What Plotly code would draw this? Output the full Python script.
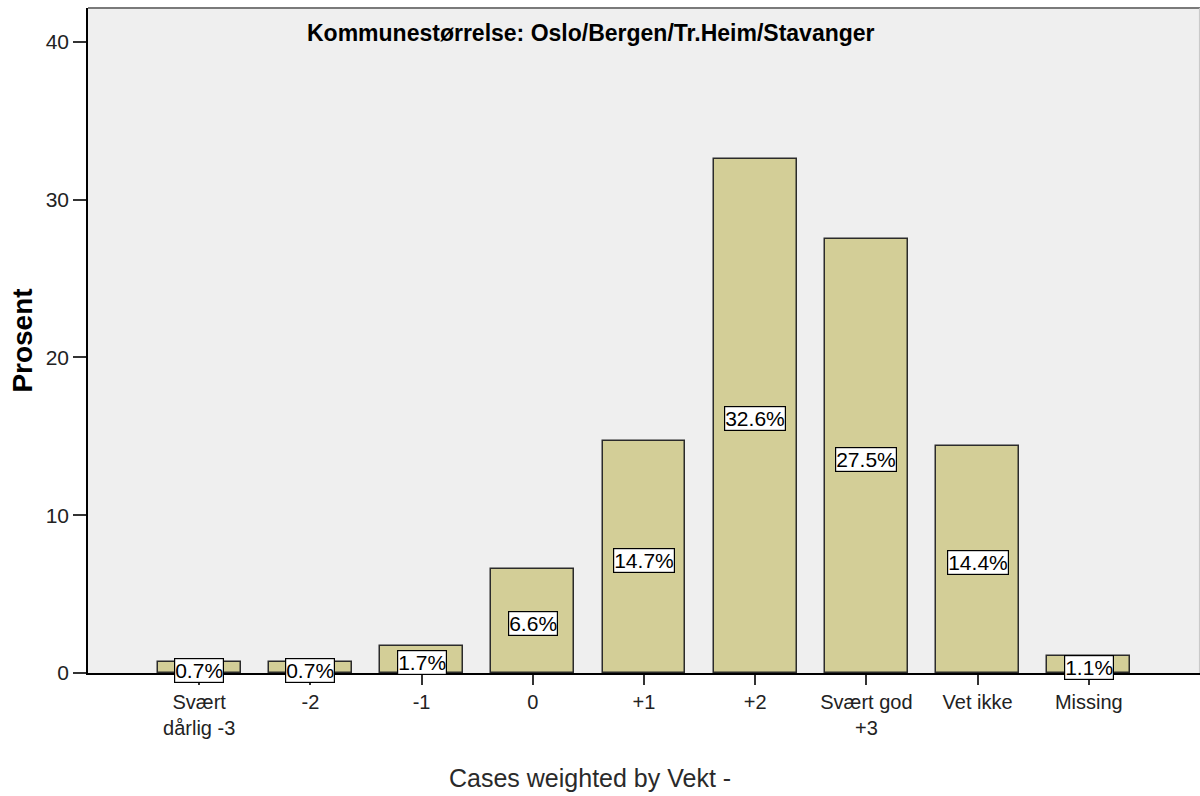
import plotly.graph_objects as go

categories = ["Svært<br>dårlig -3", "-2", "-1", "0", "+1", "+2", "Svært god<br>+3", "Vet ikke", "Missing"]
percent = [0.7, 0.7, 1.7, 6.6, 14.7, 32.6, 27.5, 14.4, 1.1]
y_ticks = [0, 10, 20, 30, 40]

FONT = "Liberation Sans, Arial, sans-serif"
positions = list(range(len(categories)))

# Plot-area geometry in pixels (used to place free-floating text)
PLOT_L, PLOT_R, PLOT_T, PLOT_B = 88, 1200, 8, 673
PLOT_W, PLOT_H = PLOT_R - PLOT_L, PLOT_B - PLOT_T


def paper_x(px):
    return (px - PLOT_L) / PLOT_W


def paper_y(py):
    return (PLOT_B - py) / PLOT_H


fig = go.Figure(
    go.Bar(
        x=positions,
        y=percent,
        width=0.745,
        marker=dict(color="#D3CE97", line=dict(color="#2b2b2b", width=1.5)),
        hoverinfo="skip",
    )
)

# Value labels in white boxes at mid-height of each bar
for pos, val in zip(positions, percent):
    fig.add_annotation(
        x=pos, y=val / 2, xref="x", yref="y",
        text=f"{val:.1f}%", showarrow=False, yshift=-3,
        font=dict(family=FONT, size=21, color="black"),
        bgcolor="white", bordercolor="black", borderwidth=1.2, borderpad=0,
    )

fig.add_annotation(
    x=paper_x(591), y=paper_y(33), xref="paper", yref="paper", yanchor="middle",
    text="<b>Kommunestørrelse: Oslo/Bergen/Tr.Heim/Stavanger</b>",
    showarrow=False, font=dict(family=FONT, size=23, color="black"),
)

fig.add_annotation(
    x=paper_x(590), y=paper_y(778), xref="paper", yref="paper", yanchor="middle",
    text="Cases weighted by Vekt -", showarrow=False,
    font=dict(family=FONT, size=25, color="#2a2a2a"),
)

# Frame lines along the top and right of the plot area
fig.add_shape(type="line", xref="paper", yref="paper", x0=0, x1=1, y0=1, y1=1,
              line=dict(color="#7a7a7a", width=2))
fig.add_shape(type="line", xref="paper", yref="paper", x0=0.9995, x1=0.9995, y0=0, y1=1,
              line=dict(color="#c8c8c8", width=1))

fig.update_layout(
    width=1200, height=796,
    margin=dict(l=PLOT_L, r=1200 - PLOT_R, t=PLOT_T, b=796 - PLOT_B),
    paper_bgcolor="white", plot_bgcolor="#EFEFEF",
    showlegend=False, bargap=0,
    font=dict(family=FONT, color="black"),
    xaxis=dict(
        range=[-1, len(categories)], tickvals=positions, ticktext=categories,
        showgrid=False, zeroline=False, showline=True, linecolor="black", linewidth=1.5,
        ticks="outside", ticklen=10, tickwidth=1.5, tickcolor="#333333",
        tickfont=dict(family=FONT, size=20, color="#222222"),
    ),
    yaxis=dict(
        range=[0, 42.15], tickvals=y_ticks,
        showgrid=False, zeroline=False, showline=True, linecolor="black", linewidth=1.5,
        ticks="outside", ticklen=13, tickwidth=1.5, tickcolor="#333333",
        tickfont=dict(family=FONT, size=21, color="#222222"),
        title=dict(text="<b>Prosent</b>", font=dict(family=FONT, size=28, color="black"), standoff=5),
    ),
)

fig.write_html("out.html")
